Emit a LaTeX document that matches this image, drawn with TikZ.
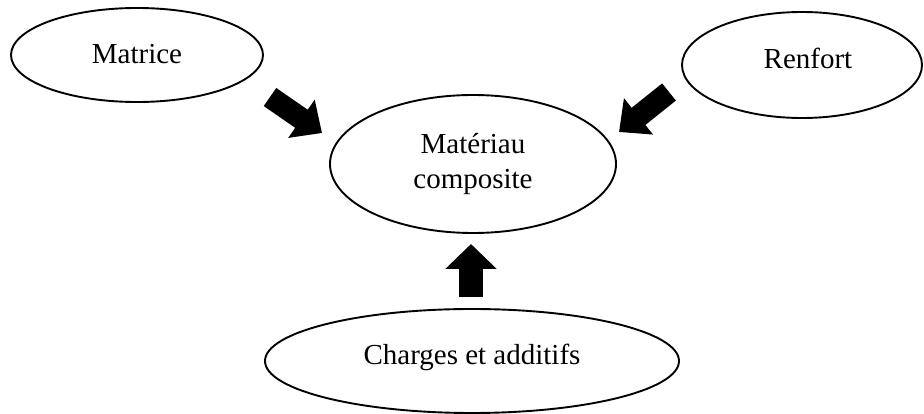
\documentclass[tikz,border=0pt]{standalone}
\usepackage{fontspec}
\setmainfont{Liberation Serif}
\usetikzlibrary{shapes.geometric,arrows.meta}
\tikzset{
  blob/.style={ellipse, draw, line width=1.9pt, inner sep=0pt, fill=white},
  lbl/.style={font=\fontsize{29}{35}\selectfont, align=center, inner sep=0pt},
  fatarrow/.style={line width=22pt, -{Triangle[length=25pt, width=45pt]}},
}
\begin{document}
\begin{tikzpicture}[x=1pt, y=-1pt]
  \useasboundingbox (0,0) rectangle (924,414);
  % ellipses
  \node[blob, minimum width=252pt, minimum height=94pt] (mat) at (137,55) {};
  \node[blob, minimum width=240pt, minimum height=106pt] (ren) at (802,65) {};
  \node[blob, minimum width=286pt, minimum height=138pt] (comp) at (473,164) {};
  \node[blob, minimum width=414pt, minimum height=104pt] (ch) at (472,361) {};
  % labels
  \node[lbl] (tmat) at (137,54) {Matrice};
  \node[lbl] (tren) at (808,58) {Renfort};
  \node[lbl] (tcomp) at (473,164) {Matériau\\composite};
  \node[lbl] (tch) at (472,357) {Charges et additifs};
  % arrow ends
  \coordinate (a1) at (270,97);
  \coordinate (b1) at (322,133);
  \coordinate (a2) at (669,92);
  \coordinate (b2) at (619,132);
  \coordinate (a3) at (471,297);
  \coordinate (b3) at (471,244);
  \draw[fatarrow] (a1) -- (b1);
  \draw[fatarrow] (a2) -- (b2);
  \draw[fatarrow, line width=24pt, -{Triangle[length=25pt, width=50pt]}] (a3) -- (b3);
\end{tikzpicture}
\end{document}
